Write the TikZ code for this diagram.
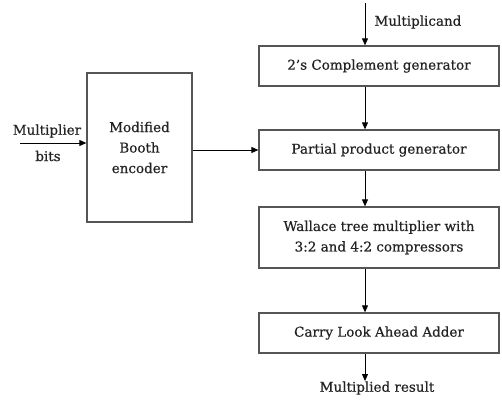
\documentclass[tikz,border=0pt]{standalone}
\usepackage{fontspec}
\setmainfont{DejaVu Serif}[BoldFont={DejaVu Serif}, BoldFeatures={FakeBold=0.5}]
\usetikzlibrary{arrows.meta}
\definecolor{boxgray}{RGB}{85,85,85}
\definecolor{inkdark}{RGB}{35,35,35}

\begin{document}
\begin{tikzpicture}[x=1pt, y=-1pt,
    font=\fontsize{13.5}{20.5}\selectfont\bfseries, text=inkdark,
    blk/.style={draw=boxgray, line width=1.3pt, minimum width=240pt,
      minimum height=40pt, align=center, inner sep=0pt},
    arr/.style={-{Triangle[length=7pt,width=6pt]}, line width=0.8pt}]
      \useasboundingbox (0,0) rectangle (502,399);
      \node[blk] (comp) at (379,66) {2's Complement generator};
      \node[blk] (ppg) at (379,150) {Partial product generator};
      \node[blk, minimum height=61pt] (wal) at (379,237.5) {Wallace tree multiplier with\\3:2 and 4:2 compressors};
      \node[blk] (cla) at (379,333) {Carry Look Ahead Adder};
      \node[blk, minimum width=105pt, minimum height=149pt] (booth) at (139.5,147.5) {Modified\\Booth\\encoder};
      \node[anchor=west] (mcand) at (371,22) {Multiplicand};
      \node (mlt) at (47,131) {Multiplier};
      \node (bits) at (48,156) {bits};
      \node (result) at (377,388) {Multiplied result};
      \coordinate (mc) at (365,3);
      \coordinate (mb) at (20,143);
      \coordinate (res) at (365,381);
      \draw[arr] (mc) -- (mc |- comp.north);
      \draw[arr] (mc |- comp.south) -- (mc |- ppg.north);
      \draw[arr] (mc |- ppg.south) -- (mc |- wal.north);
      \draw[arr] (mc |- wal.south) -- (mc |- cla.north);
      \draw[arr] (mc |- cla.south) -- (res);
      \draw[arr] (mb) -- (mb -| booth.west);
      \draw[arr] (booth.east |- ppg.west) -- (ppg.west);
\end{tikzpicture}
\end{document}
